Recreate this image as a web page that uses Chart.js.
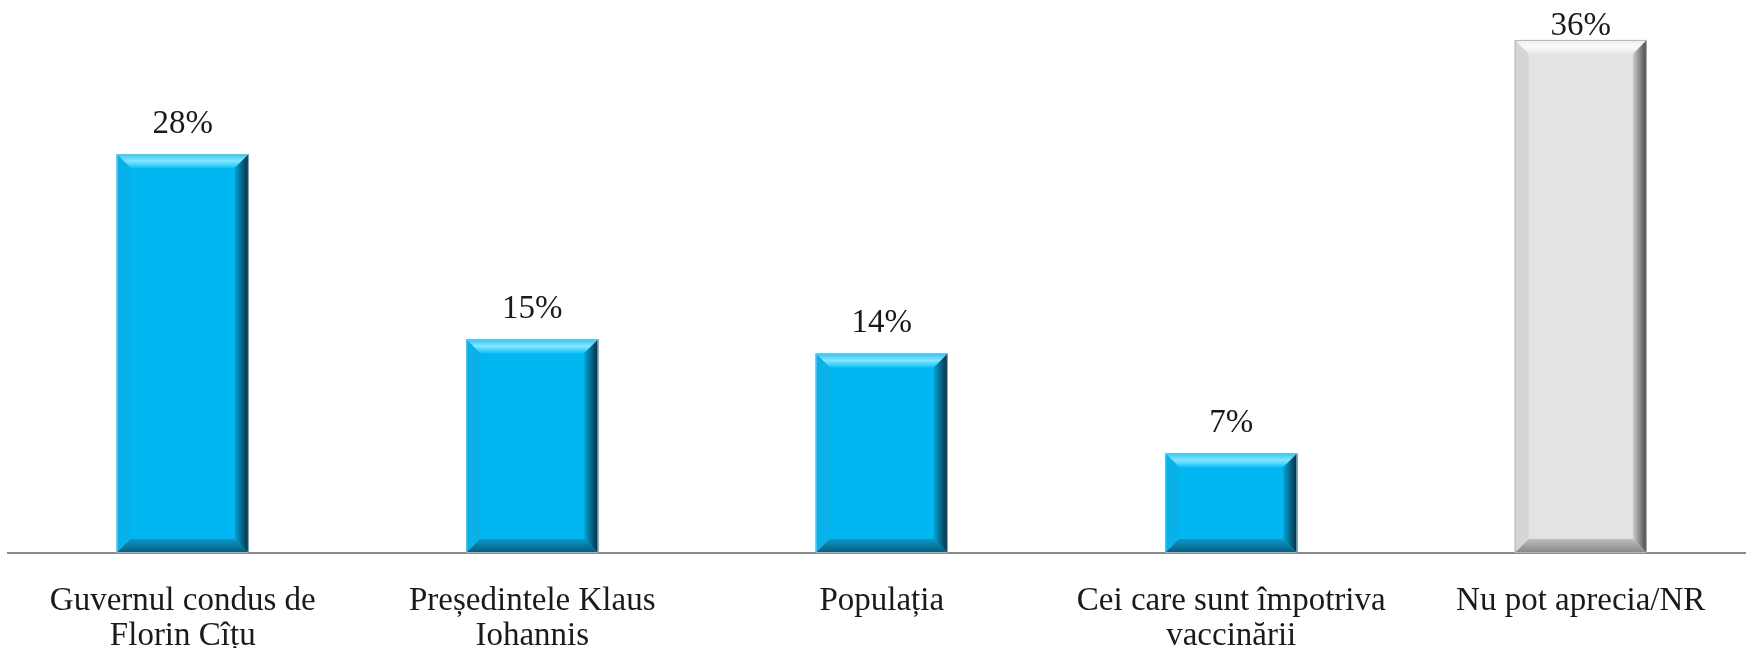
<!DOCTYPE html>
<html>
<head>
<meta charset="utf-8">
<script src="https://cdn.jsdelivr.net/npm/chart.js@4/dist/chart.umd.min.js"></script>
<style>
  html, body { margin: 0; padding: 0; background: #ffffff; overflow: hidden; }
  #wrap { width: 1746px; height: 648px; overflow: hidden; position: relative; }
  canvas { display: block; }
</style>
</head>
<body>
<div id="wrap"><canvas id="c" width="1760" height="648"></canvas></div>
<script>
const categories = [
  ["Guvernul condus de", "Florin Cîțu"],
  ["Președintele Klaus", "Iohannis"],
  "Populația",
  ["Cei care sunt împotriva", "vaccinării"],
  "Nu pot aprecia/NR"
];
const values = [28, 15, 14, 7, 36];
const valueLabels = ["28%", "15%", "14%", "7%", "36%"];
const barColors = ["#00B7F1", "#00B7F1", "#00B7F1", "#00B7F1", "#E3E3E3"];

const FONT = "'Liberation Serif', 'Times New Roman', serif";

const palettes = {
  "#00B7F1": { top1: "#2cc6f6", top2: "#86e6ff", top3: "#18bff4", left: "#0ab0e8", right1: "#00a5da", right2: "#052a3e", bot1: "#049acb", bot2: "#0a5877", edge: "#8fb9cc" },
  "#E3E3E3": { top1: "#ececec", top2: "#fbfbfb", top3: "#e8e8e8", left: "#d6d6d6", right1: "#cfcfcf", right2: "#454545", bot1: "#bdbdbd", bot2: "#858585", edge: "#b5b5b5" }
};

const bevelPlugin = {
  id: 'bevel',
  afterDatasetsDraw(chart) {
    const ctx = chart.ctx;
    const meta = chart.getDatasetMeta(0);
    meta.data.forEach((bar, i) => {
      const p = palettes[barColors[i]];
      const x0 = bar.x - bar.width / 2, x1 = bar.x + bar.width / 2;
      const y0 = bar.y, y1 = bar.base;
      const b = Math.min(14, (y1 - y0) / 2, bar.width / 2);
      ctx.save();
      let g = ctx.createLinearGradient(0, y0, 0, y0 + b);
      g.addColorStop(0, p.top1); g.addColorStop(0.5, p.top2); g.addColorStop(1, p.top3);
      ctx.fillStyle = g;
      ctx.beginPath(); ctx.moveTo(x0, y0); ctx.lineTo(x1, y0); ctx.lineTo(x1 - b, y0 + b); ctx.lineTo(x0 + b, y0 + b); ctx.closePath(); ctx.fill();
      ctx.fillStyle = p.left;
      ctx.beginPath(); ctx.moveTo(x0, y0); ctx.lineTo(x0 + b, y0 + b); ctx.lineTo(x0 + b, y1 - b); ctx.lineTo(x0, y1); ctx.closePath(); ctx.fill();
      g = ctx.createLinearGradient(x1 - b, 0, x1, 0);
      g.addColorStop(0, p.right1); g.addColorStop(1, p.right2);
      ctx.fillStyle = g;
      ctx.beginPath(); ctx.moveTo(x1, y0); ctx.lineTo(x1, y1); ctx.lineTo(x1 - b, y1 - b); ctx.lineTo(x1 - b, y0 + b); ctx.closePath(); ctx.fill();
      g = ctx.createLinearGradient(0, y1 - b, 0, y1);
      g.addColorStop(0, p.bot1); g.addColorStop(1, p.bot2);
      ctx.fillStyle = g;
      ctx.beginPath(); ctx.moveTo(x0, y1); ctx.lineTo(x1, y1); ctx.lineTo(x1 - b, y1 - b); ctx.lineTo(x0 + b, y1 - b); ctx.closePath(); ctx.fill();
      ctx.strokeStyle = p.edge; ctx.lineWidth = 1;
      ctx.strokeRect(x0 + 0.5, y0 + 0.5, bar.width - 1, y1 - y0 - 1);
      ctx.restore();
    });
  },
  afterDraw(chart) {
    const ctx = chart.ctx;
    const meta = chart.getDatasetMeta(0);
    ctx.save();
    ctx.font = "33px " + FONT;
    ctx.fillStyle = "#1a1a1a";
    ctx.textAlign = "center";
    ctx.textBaseline = "alphabetic";
    meta.data.forEach((bar, i) => {
      const yb = Math.max(bar.y - 21, 35);
      ctx.fillText(valueLabels[i], bar.x, yb);
    });
    ctx.restore();
  }
};

new Chart(document.getElementById('c'), {
  type: 'bar',
  data: {
    labels: categories,
    datasets: [{
      data: values,
      backgroundColor: barColors,
      borderWidth: 0,
      barPercentage: 0.378,
      categoryPercentage: 1.0
    }]
  },
  options: {
    responsive: false,
    animation: false,
    events: [],
    layout: { padding: { left: 8, right: 4.5, top: 0, bottom: 0 } },
    plugins: { legend: { display: false }, tooltip: { enabled: false } },
    scales: {
      x: {
        grid: { display: false, drawTicks: false },
        border: { display: true, color: '#8a8a8a', width: 2 },
        ticks: {
          color: '#1a1a1a',
          font: { family: FONT, size: 33, lineHeight: 1.05 },
          padding: 31,
          autoSkip: false,
          maxRotation: 0,
          minRotation: 0
        },
        afterFit(axis) { axis.height = 95; }
      },
      y: {
        display: false,
        min: 0,
        max: 38.8
      }
    }
  },
  plugins: [bevelPlugin]
});
</script>
</body>
</html>
